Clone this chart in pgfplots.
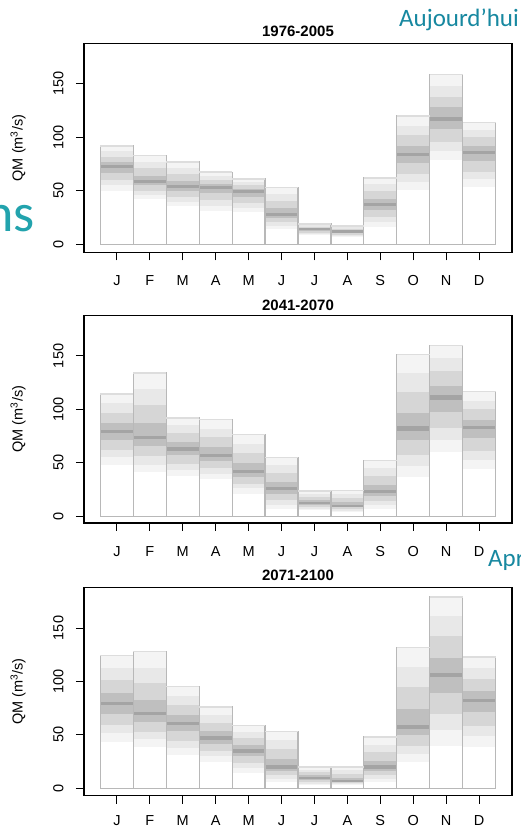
\documentclass[border=0pt]{standalone}
\usepackage{pgfplots}
\pgfplotsset{compat=1.18}
\usepackage{pgfplotstable}
\usepackage{fontspec}
\setmainfont{Liberation Sans}
\newfontfamily\slidefont{Carlito}
\definecolor{slideteal}{HTML}{1788A0}
\definecolor{slidecyan}{HTML}{22A3AD}
\definecolor{barline}{HTML}{B8B8B8}
\definecolor{topline}{HTML}{DDDDDD}

% x, top of the bars, then the shaded spreads: lo-top, g-h, a-b, c-d, e-f (median)
\pgfplotstableread{
x top lo g h a b c d e f
1 92 50 55 87 60 82 67 77 71.5 74.5
2 83 42 46 77 50 71 55 64 57.5 60.5
3 77 36 40 71 44 65.5 49.5 59 52.5 55.5
4 67.5 31 36 64 41 60 47.5 56 51.5 54.5
5 61 30 34 58 38.5 55 44 51.5 47.5 50.5
6 53 14 17 47 20.5 40.5 24.5 33.5 26.5 29.5
7 19 9 10 18 11 16.5 12.5 15 13 15
8 17 7 8 16 9 14.5 10.5 13 11 13
9 62 16 21 56 25.5 49.5 32 42.5 35.5 38.5
10 120 51 58 111 66 102 76 92 82.5 85.5
11 159 79 87 148 96 138 108 128 115 119
12 114 54 61 107 68 100 78 92 84.5 87.5
}\pera
\pgfplotstableread{
x top lo g h a b c d e f
1 114.5 48 55 106 62 97 71 87 77.5 80.5
2 134 41 48 119 56 104 66 87 72.5 75.5
3 92 38 43 85 49 77.5 57 69.5 61.5 64.5
4 90.5 35 40 82 45 74 51.5 64.5 55.5 58.5
5 76.5 21 26 68 30.5 59 37 49.5 40.5 43.5
6 55 7 11 48 15.5 40.5 21 32.5 24.5 27.5
7 23.6 5.6 7 21 8.7 18 10.8 15 11.5 13.5
8 24 4 5.3 20.5 6.7 17 8.5 13 9 11
9 52 7 10.5 45 14 37.5 19 29.5 21.5 24.5
10 151 37 47 134 57 116.5 71 97 80 84
11 160 60 71 148 83 135.5 98 122 109 113
12 117 44 53 108 61.5 100 73 90.5 81.5 84.5
}\perb
\pgfplotstableread{
x top lo g h a b c d e f
1 124.5 43.5 51.5 113 59.5 101.5 70 89 77.5 80.5
2 128 39 46 113 53 99 62 83 68.5 71.5
3 95 31 38 86.5 44.5 78 53.5 68.5 59.5 62.5
4 76 25 30 69 35 61.5 41.5 53.5 45.5 48.5
5 59 14 19 53 23.5 47 30 40.5 33.5 36.5
6 53 6 9 45 12.5 36.5 16.5 27 18.5 21.5
7 20 3 4.5 17.5 6 15 8 12 9 11
8 20 3 4 17 5 13.5 6 10 6 8
9 48 6 9 41 12.5 34 16.5 26 18.5 21.5
10 132 25 32 113.5 39.5 95 49.5 74 55.5 59.5
11 179 40 55 161 70 142.5 89.5 122 104 108
12 123 39 49 113 58.5 102.5 71 91 80.5 83.5
}\perc

\pgfplotsset{
  band/.style={draw=none, mark=none, forget plot,
    error bars/.cd, y dir=plus, y explicit, error mark=none,
    error bar style={line width=32.92pt, draw=black, draw opacity=#1}},
  qm/.style={
    scale only axis, width=428pt,
    xmin=0, xmax=13,
    xtick={1,...,12}, xticklabels={J,F,M,A,M,J,J,A,S,O,N,D},
    ytick={0,50,100,150},
    tick pos=left, tick align=outside, major tick length=8pt,
    tick style={black, line width=0.9pt},
    axis line style={black, line width=1.1pt},
    font=\fontsize{14.5}{16}\selectfont,
    /pgf/number format/assume math mode=true,
    xticklabel style={yshift=-12pt},
    yticklabel style={rotate=90, anchor=south},
    yticklabel shift=9pt,
    ylabel={QM (m\textsuperscript{3}/s)},
    ylabel style={at={(axis description cs:-0.154,0.5)}, anchor=center},
    title style={font=\fontsize{15}{17}\selectfont\bfseries, at={(axis description cs:0.5,1)}, anchor=base},
  },
}

\newcommand{\period}[1]{%
  \addplot[band=0.045] table[x=x, y=lo, y error expr=\thisrow{top}-\thisrow{lo}] {#1};
  \addplot[band=0.05] table[x=x, y=g, y error expr=\thisrow{h}-\thisrow{g}] {#1};
  \addplot[band=0.08] table[x=x, y=a, y error expr=\thisrow{b}-\thisrow{a}] {#1};
  \addplot[band=0.11] table[x=x, y=c, y error expr=\thisrow{d}-\thisrow{c}] {#1};
  \addplot[band=0.14] table[x=x, y=e, y error expr=\thisrow{f}-\thisrow{e}] {#1};
  \addplot[ybar, bar width=1, draw=barline, fill=none, line width=1.2pt] table[x=x, y=top] {#1};
  \addplot[draw=none, mark=none, forget plot, error bars/.cd, x dir=both, x fixed=0.5,
    error mark=none, error bar style={line width=1.3pt, draw=topline}] table[x=x, y=top] {#1};
}

\begin{document}
\begin{tikzpicture}
\useasboundingbox (0,0) rectangle (520pt,830pt);
\clip (0,0) rectangle (520pt,830pt);

\begin{axis}[qm, at={(84pt,577.7pt)}, anchor=south west,
  height=208.5pt, ymin=-7.5, ymax=187.5,
  title={1976-2005}, title style={yshift=1pt}]
\period{\pera}
\end{axis}

\begin{axis}[qm, at={(84pt,307pt)}, anchor=south west,
  height=207.7pt, ymin=-6.3, ymax=188,
  title={2041-2070}, title style={yshift=-1.5pt}]
\period{\perb}
\end{axis}

\begin{axis}[qm, at={(84pt,34.3pt)}, anchor=south west,
  height=208pt, ymin=-6.9, ymax=187.7,
  title={2071-2100}, title style={yshift=1pt},
  xticklabel style={yshift=3.5pt}]
\period{\perc}
\end{axis}

\node[anchor=base west, text=slideteal, inner sep=0pt, font=\slidefont\fontsize{25}{28}\selectfont] at (399pt,803pt) {Aujourd’hui};
\node[anchor=base east, text=slidecyan, inner sep=0pt, font=\slidefont\fontsize{54}{60}\selectfont] at (35pt,598pt) {ns};
\node[anchor=base west, text=slideteal, inner sep=0pt, font=\slidefont\fontsize{25}{28}\selectfont] at (488pt,263pt) {Après};
\end{tikzpicture}
\end{document}
